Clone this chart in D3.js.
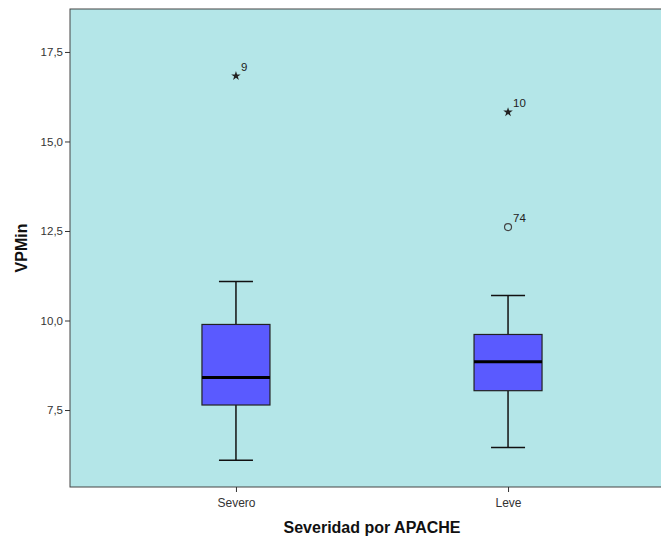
<!DOCTYPE html>
<html><head><meta charset="utf-8">
<script src="https://cdn.jsdelivr.net/npm/d3@7"></script>
<style>body{margin:0;background:#fff;}svg{display:block;font-family:"Liberation Sans",Arial,sans-serif;}</style>
</head><body>
<script>
const categories = ["Severo", "Leve"];
const lowerWhisker = [6.1, 6.45];
const q1 = [7.64, 8.04];
const median = [8.41, 8.85];
const q3 = [9.89, 9.61];
const upperWhisker = [11.09, 10.7];
const outliers = [
  {cat: "Severo", value: 16.83, label: "9", type: "star"},
  {cat: "Leve", value: 15.82, label: "10", type: "star"},
  {cat: "Leve", value: 12.61, label: "74", type: "circle"}
];
const yTicks = [7.5, 10.0, 12.5, 15.0, 17.5];

const W = 661, H = 537;
const m = {left: 70, top: 9, right: -13, bottom: 50};
const svg = d3.select("body").append("svg").attr("width", W).attr("height", H);
const x = d3.scalePoint().domain(categories).range([m.left, W - m.right]).padding(0.61);
const y = d3.scaleLinear().domain([5.35, 18.7]).range([H - m.bottom, m.top]);

svg.append("rect").attr("x", m.left).attr("y", m.top)
  .attr("width", W - m.right - m.left).attr("height", H - m.bottom - m.top)
  .attr("fill", "#b4e6e8").attr("stroke", "#444").attr("stroke-width", 1);

const fmt = d => d.toFixed(1).replace(".", ",");
const yAxis = svg.append("g").attr("transform", `translate(${m.left},0)`)
  .call(d3.axisLeft(y).tickValues(yTicks).tickFormat(fmt).tickSize(5).tickPadding(2));
yAxis.select(".domain").remove();
yAxis.selectAll("line").attr("stroke", "#333");
yAxis.selectAll("text").attr("fill", "#333").style("font-size", "11.5px");

const xAxis = svg.append("g").attr("transform", `translate(0,${H - m.bottom})`)
  .call(d3.axisBottom(x).tickSize(5).tickPadding(6));
xAxis.select(".domain").remove();
xAxis.selectAll("line").attr("stroke", "#333");
xAxis.selectAll("text").attr("fill", "#333").style("font-size", "12px");

svg.append("text").attr("x", 372).attr("y", 533).attr("text-anchor", "middle")
  .style("font-size", "16px").style("font-weight", "bold").attr("fill", "#111").text("Severidad por APACHE");
svg.append("text").attr("transform", `translate(27,248) rotate(-90)`).attr("text-anchor", "middle")
  .style("font-size", "16px").style("font-weight", "bold").attr("fill", "#111").text("VPMin");

const bw = 68, cw = 34;
categories.forEach((c, i) => {
  const cx = x(c);
  const g = svg.append("g");
  g.append("line").attr("x1", cx).attr("x2", cx).attr("y1", y(upperWhisker[i])).attr("y2", y(q3[i])).attr("stroke", "#111").attr("stroke-width", 1.5);
  g.append("line").attr("x1", cx).attr("x2", cx).attr("y1", y(q1[i])).attr("y2", y(lowerWhisker[i])).attr("stroke", "#111").attr("stroke-width", 1.5);
  g.append("line").attr("x1", cx - cw/2).attr("x2", cx + cw/2).attr("y1", y(upperWhisker[i])).attr("y2", y(upperWhisker[i])).attr("stroke", "#111").attr("stroke-width", 1.5);
  g.append("line").attr("x1", cx - cw/2).attr("x2", cx + cw/2).attr("y1", y(lowerWhisker[i])).attr("y2", y(lowerWhisker[i])).attr("stroke", "#111").attr("stroke-width", 1.5);
  g.append("rect").attr("x", cx - bw/2).attr("y", y(q3[i])).attr("width", bw).attr("height", y(q1[i]) - y(q3[i]))
    .attr("fill", "#5a5aff").attr("stroke", "#222").attr("stroke-width", 1.2);
  g.append("line").attr("x1", cx - bw/2).attr("x2", cx + bw/2).attr("y1", y(median[i])).attr("y2", y(median[i])).attr("stroke", "#000").attr("stroke-width", 3);
});

outliers.forEach(o => {
  const cx = x(o.cat), cy = y(o.value);
  if (o.type === "star") {
    svg.append("path").attr("d", d3.symbol(d3.symbolStar, 28)()).attr("transform", `translate(${cx},${cy})`).attr("fill", "#222");
  } else {
    svg.append("circle").attr("cx", cx).attr("cy", cy).attr("r", 3.5).attr("fill", "none").attr("stroke", "#444").attr("stroke-width", 1.2);
  }
  svg.append("text").attr("x", cx + 5).attr("y", cy - 5).style("font-size", "11.5px").attr("fill", "#222").text(o.label);
});
</script>
</body></html>
